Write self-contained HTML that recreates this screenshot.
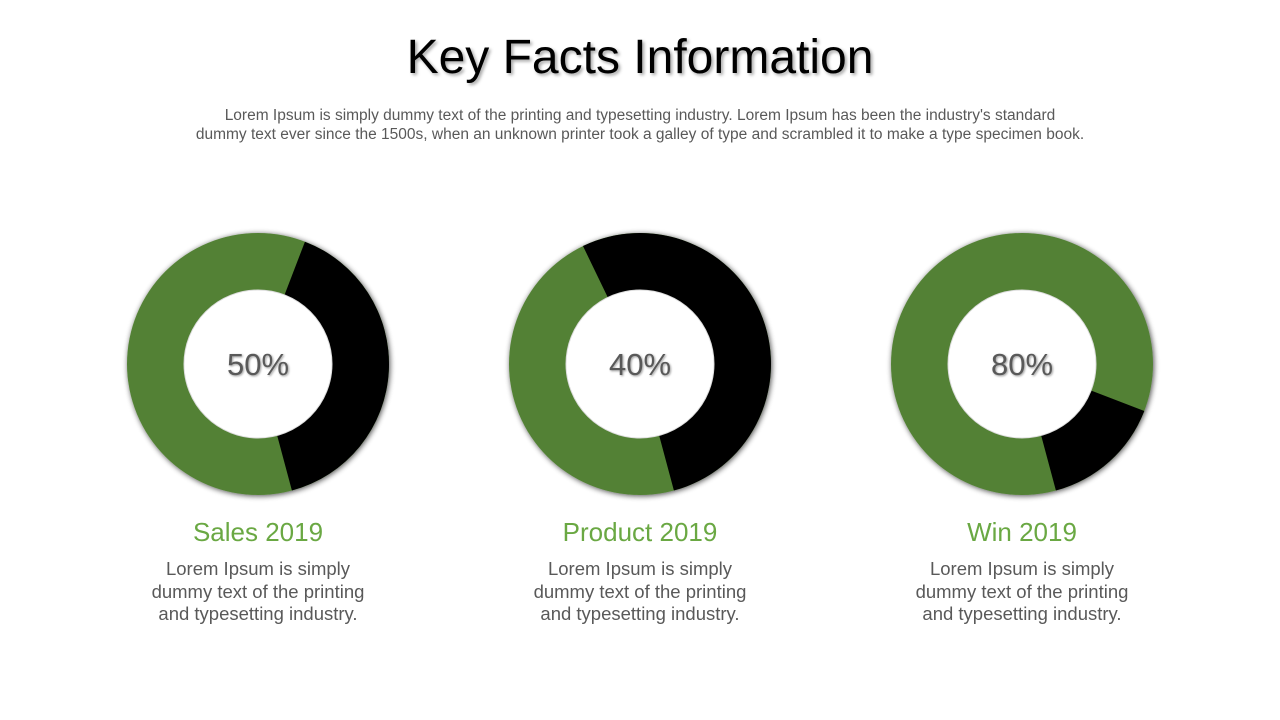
<!DOCTYPE html>
<html><head><meta charset="utf-8"><style>
body{margin:0;width:1280px;height:720px;background:#fff;font-family:"Liberation Sans",sans-serif;overflow:hidden;position:relative}
h1{position:absolute;top:30px;left:0;width:1280px;text-align:center;margin:0;font-weight:normal;font-size:48px;color:#000;text-shadow:2px 2px 3px rgba(0,0,0,.35)}
.sub{position:absolute;top:106px;left:0;width:1280px;text-align:center;font-size:15.5px;line-height:19px;color:#595959}
.t{position:absolute;width:300px;text-align:center;font-size:26px;color:#6aa843;top:517px}
.d{position:absolute;width:300px;text-align:center;font-size:18.5px;line-height:22.5px;color:#595959;top:558px}
</style></head><body>
<h1>Key Facts Information</h1>
<div class="sub">Lorem Ipsum is simply dummy text of the printing and typesetting industry. Lorem Ipsum has been the industry's standard<br>dummy text ever since the 1500s, when an unknown printer took a galley of type and scrambled it to make a type specimen book.</div>
<svg id="c" width="1280" height="720" style="position:absolute;left:0;top:0">
<defs><filter id="sh" x="-20%" y="-20%" width="140%" height="140%"><feGaussianBlur in="SourceAlpha" stdDeviation="3"/><feOffset dx="1" dy="1"/><feComponentTransfer><feFuncA type="linear" slope="0.7"/></feComponentTransfer><feMerge><feMergeNode/><feMergeNode in="SourceGraphic"/></feMerge></filter></defs>
</svg>
<div class="t" style="left:108px">Sales 2019</div>
<div class="t" style="left:490px">Product 2019</div>
<div class="t" style="left:872px">Win 2019</div>
<div class="d" style="left:108px">Lorem Ipsum is simply<br>dummy text of the printing<br>and typesetting industry.</div>
<div class="d" style="left:490px">Lorem Ipsum is simply<br>dummy text of the printing<br>and typesetting industry.</div>
<div class="d" style="left:872px">Lorem Ipsum is simply<br>dummy text of the printing<br>and typesetting industry.</div>
<script>
const categories=["Sales","Product","Win"];
const labels=["50%","40%","80%"];
const blackShare=[40,53,15];
const blackEndDeg=165;
const svg=document.getElementById('c');
const NS="http://www.w3.org/2000/svg";
const centersX=[258,640,1022], cy=364, R=131, r=74;
function pt(a,rad,cx){const t=(a-90)*Math.PI/180;return [cx+rad*Math.cos(t),cy+rad*Math.sin(t)];}
function arc(a0,a1,cx){const l=(a1-a0)>180?1:0;const p0=pt(a0,R,cx),p1=pt(a1,R,cx);
return `M${cx} ${cy}L${p0[0]} ${p0[1]}A${R} ${R} 0 ${l} 1 ${p1[0]} ${p1[1]}Z`;}
categories.forEach((c,i)=>{
const cx=centersX[i];
const g=document.createElementNS(NS,'g');


const base=document.createElementNS(NS,'circle');
base.setAttribute('cx',cx);base.setAttribute('cy',cy);base.setAttribute('r',R);base.setAttribute('fill','#538135');base.setAttribute('filter','url(#sh)');


g.appendChild(base);
const a1=blackEndDeg,a0=a1-blackShare[i]*3.6;
const p=document.createElementNS(NS,'path');
p.setAttribute('d',arc(a0,a1,cx));p.setAttribute('fill','#000');


g.appendChild(p);
const h=document.createElementNS(NS,'circle');
h.setAttribute('cx',cx);h.setAttribute('cy',cy);h.setAttribute('r',r);h.setAttribute('fill','#fff');h.setAttribute('stroke','#ddd');


g.appendChild(h);
const t=document.createElementNS(NS,'text');
t.setAttribute('x',cx);t.setAttribute('y',cy+11);t.setAttribute('text-anchor','middle');t.setAttribute('font-size','31');t.setAttribute('fill','#595959');t.setAttribute('font-family','Liberation Sans, sans-serif');
t.setAttribute('style','text-shadow:1px 1px 2px rgba(0,0,0,.4)');
t.textContent=labels[i];


g.appendChild(t);
svg.appendChild(g);
});
</script>
</body></html>
